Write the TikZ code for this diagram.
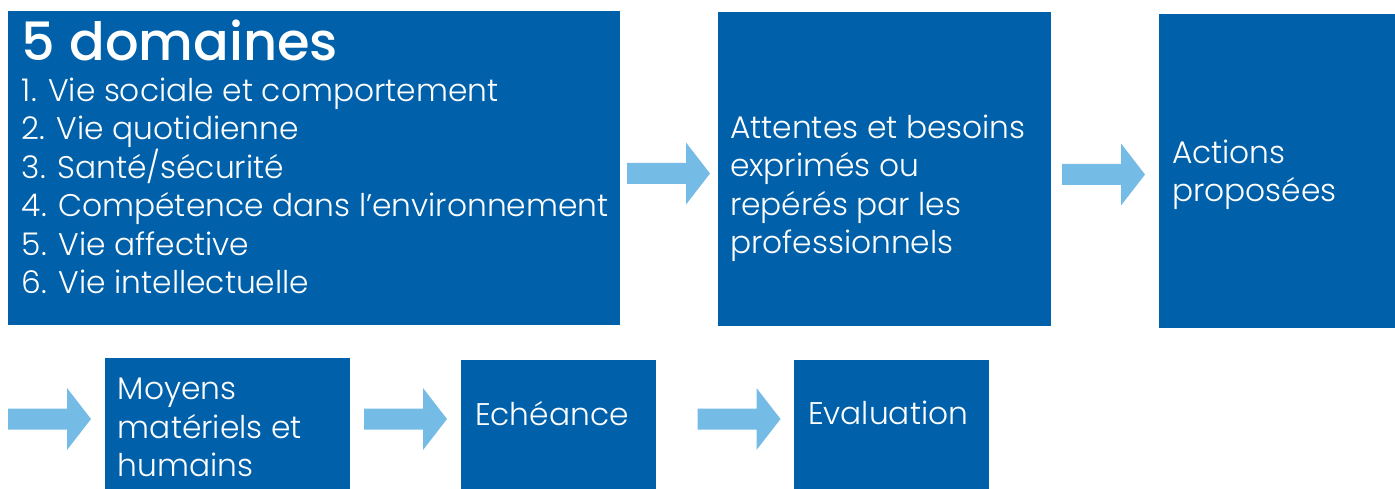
\documentclass[tikz,border=0pt]{standalone}
\usepackage{fontspec}
\setmainfont{Poppins}[UprightFont=* Light, BoldFont=* Medium]
\usetikzlibrary{fit}

\definecolor{boxblue}{HTML}{0061AA}
\definecolor{arrowblue}{HTML}{74BBE6}

\tikzset{
  box/.style={fill=boxblue, inner sep=0pt},
  boxtext/.style={text=white, align=left, inner sep=0pt, anchor=north west,
    font=\fontsize{17.8}{21.9}\selectfont},
}

% block arrow centred on a coordinate
\newcommand{\blkarrow}[1]{%
  \fill[arrowblue] (#1) ++(-41.5,-10.5) -- ++(59,0) -- ++(0,-20.5) -- ++(24,31)
    -- ++(-24,31) -- ++(0,-20.5) -- ++(-59,0) -- cycle;}

\begin{document}
\begin{tikzpicture}[x=0.02cm, y=-0.02cm]
  \useasboundingbox (0,0) rectangle (1395,489);

  % first row
  \node[box, fit={(8,11) (620,325)}] (dom) {};
  \node[box, fit={(718,12) (1051,326)}] (att) {};
  \node[box, fit={(1159,14) (1395,328)}] (act) {};

  \node[boxtext, font=\fontsize{30}{34}\selectfont\bfseries] (domtitle)
    at ([xshift=0.28cm, yshift=-0.18cm]dom.north west) {5 domaines};
  \node[boxtext] (domlist) at ([xshift=0.28cm, yshift=-1.34cm]dom.north west)
    {1. Vie sociale et comportement\\
     2. Vie quotidienne\\
     3. Santé/sécurité\\
     4. Compétence dans l’environnement\\
     5. Vie affective\\
     6. Vie intellectuelle};
  \node[boxtext] (atttxt) at ([xshift=0.24cm, yshift=-2.06cm]att.north west)
    {Attentes et besoins\\ exprimés ou\\ repérés par les\\ professionnels};
  \node[boxtext] (acttxt) at ([xshift=0.26cm, yshift=-2.52cm]act.north west)
    {Actions\\ proposées};

  % second row
  \node[box, fit={(105,358) (350,489)}] (moy) {};
  \node[box, fit={(461,360) (656,489)}] (ech) {};
  \node[box, fit={(794,360) (989,489)}] (eva) {};

  \node[boxtext] (moytxt) at ([xshift=0.26cm, yshift=-0.40cm]moy.north west)
    {Moyens\\ matériels et\\ humains};
  \node[boxtext] (echtxt) at ([xshift=0.28cm, yshift=-0.82cm]ech.north west)
    {Echéance};
  \node[boxtext] (evatxt) at ([xshift=0.28cm, yshift=-0.82cm]eva.north west)
    {Evaluation};

  % arrows
  \coordinate (a1) at (668.5,173.5);
  \coordinate (a2) at (1103.5,174.5);
  \coordinate (a3) at (49.5,419);
  \coordinate (a4) at (405.5,419);
  \coordinate (a5) at (739,419);
  \foreach \a in {a1,a2,a3,a4,a5} {\blkarrow{\a}}
\end{tikzpicture}
\end{document}
